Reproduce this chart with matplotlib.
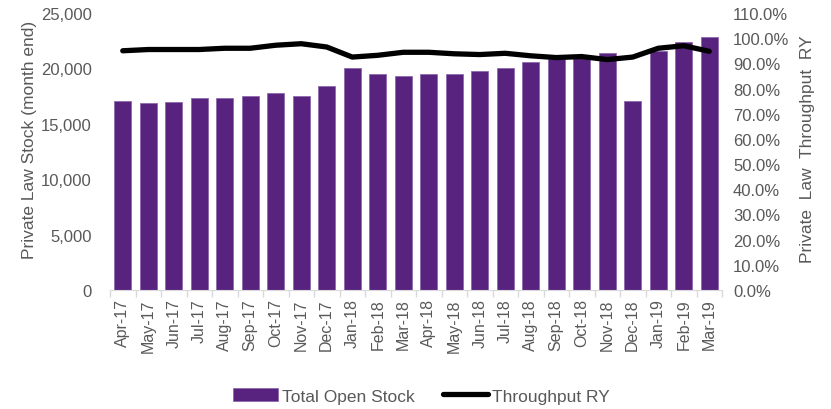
import matplotlib.pyplot as plt
import matplotlib.ticker as mticker
import numpy as np

plt.rcParams['font.family'] = ['Liberation Sans', 'DejaVu Sans']

months = ["Apr-17", "May-17", "Jun-17", "Jul-17", "Aug-17", "Sep-17", "Oct-17", "Nov-17",
          "Dec-17", "Jan-18", "Feb-18", "Mar-18", "Apr-18", "May-18", "Jun-18", "Jul-18",
          "Aug-18", "Sep-18", "Oct-18", "Nov-18", "Dec-18", "Jan-19", "Feb-19", "Mar-19"]
open_stock = [17100, 16850, 17000, 17350, 17350, 17500, 17750, 17500,
              18400, 20050, 19500, 19350, 19500, 19500, 19800, 20050,
              20550, 20850, 20900, 21400, 17100, 21600, 22350, 22800]
throughput = [0.950, 0.955, 0.955, 0.955, 0.960, 0.960, 0.972, 0.978,
              0.965, 0.925, 0.932, 0.944, 0.944, 0.938, 0.935, 0.940,
              0.930, 0.923, 0.927, 0.915, 0.925, 0.960, 0.970, 0.948]

grey = "#595959"
x = np.arange(len(months))

fig = plt.figure(figsize=(8.31, 4.10), dpi=100)
ax = fig.add_axes([110 / 831, 1 - 291 / 410, 612 / 831, 277 / 410])
ax2 = ax.twinx()

ax.bar(x, open_stock, width=0.67, color="#57237E", edgecolor="#8E6AAE", linewidth=0.6,
       label="Total Open Stock", zorder=2)
ax2.plot(x, throughput, color="black", linewidth=3.8, solid_capstyle="round",
         label="Throughput RY", zorder=3)

ax.set_xlim(-0.5, len(months) - 0.5)
ax.set_ylim(0, 25000)
ax.set_yticks(range(0, 25001, 5000))
ax.yaxis.set_major_formatter(mticker.FuncFormatter(lambda v, p: f"{int(v):,}"))
ax2.set_ylim(0, 1.1)
ax2.set_yticks(np.arange(0, 1.101, 0.1))
ax2.yaxis.set_major_formatter(mticker.FuncFormatter(lambda v, p: f"{v * 100:.1f}%"))

ax.set_xticks(x)
ax.set_xticklabels(months, rotation=90)
ax.set_xticks(np.arange(-0.5, len(months)), minor=True)
ax.tick_params(axis="x", which="major", length=0, pad=6, labelsize=11.5, labelcolor=grey)
ax.tick_params(axis="x", which="minor", length=5, color="#D9D9D9", width=1)
ax.tick_params(axis="y", length=0, labelsize=12, labelcolor=grey, pad=13)
ax2.tick_params(axis="y", length=0, labelsize=12, labelcolor=grey, pad=8)

for a in (ax, ax2):
    for s in ("top", "left", "right", "bottom"):
        a.spines[s].set_visible(False)
ax.spines["bottom"].set_visible(True)
ax.spines["bottom"].set_color("#D9D9D9")

ax.set_ylabel("Private Law Stock (month end)", fontsize=12.5, color=grey)
ax.yaxis.set_label_coords(-0.12, 0.545)
ax2.set_ylabel("Private  Law  Throughput  RY", fontsize=12.5, color=grey, rotation=90)
ax2.yaxis.set_label_coords(1.127, 0.513)

h1, l1 = ax.get_legend_handles_labels()
h2, l2 = ax2.get_legend_handles_labels()
leg = fig.legend(h1 + h2, l1 + l2, loc="center", bbox_to_anchor=(0.507, 1 - 397 / 410), ncol=2,
                 frameon=False, fontsize=12.5, handlelength=2.6, handletextpad=0.25,
                 columnspacing=1.6)
for t in leg.get_texts():
    t.set_color(grey)

fig.savefig("out.png", dpi=100)
